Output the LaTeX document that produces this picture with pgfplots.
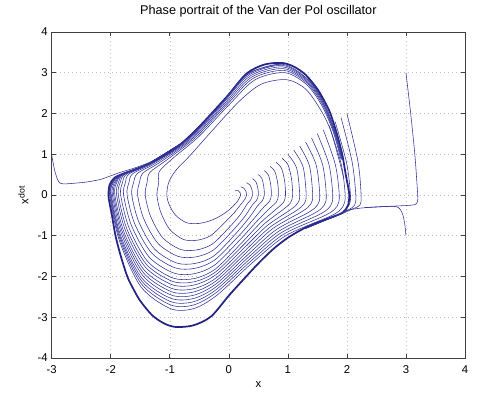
\documentclass[border=0pt]{standalone}
\usepackage{fontspec}
\setmainfont{Liberation Sans}
\usepackage{pgfplots}
\pgfplotsset{compat=1.18}
\definecolor{traj}{RGB}{50,50,152}
\definecolor{lcc}{RGB}{36,36,132}
\pgfplotsset{
  tr/.style={color=traj, line width=0.42pt, smooth, mark=none},
  lc/.style={color=lcc, line width=1.3pt, smooth, mark=none},
}
\begin{document}
\fontsize{8.5}{10}\selectfont
\begin{tikzpicture}
\begin{axis}[
  width=310pt, height=244.5pt, scale only axis,
  xmin=-3, xmax=4, ymin=-4, ymax=4,
  xtick={-3,-2,...,4}, ytick={-4,-3,...,4},
  grid=major,
  grid style={gray!50, line width=0.4pt, dash pattern=on 0.75pt off 2.25pt},
  axis line style={black!75, line width=0.5pt},
  tick style={black!75, line width=0.5pt},
  major tick length=3pt,
  tick align=inside,
  /pgf/number format/assume math mode=true,
  ticklabel style={font=\fontsize{8.5}{10}\selectfont},
  xticklabel style={yshift=-3pt},
  title={Phase portrait of the Van der Pol oscillator},
  title style={font=\fontsize{9.5}{11}\selectfont, yshift=2pt},
  xlabel={x}, ylabel={x\textsuperscript{\fontsize{6.5}{7}\selectfont dot}},
  label style={font=\fontsize{8.5}{10}\selectfont},
  ylabel style={yshift=1pt},
]
% limit cycle
\addplot[lc] coordinates {(-2.04,0) (-2.02,0.25) (-1.93,0.43) (-1.75,0.54) (-1.6,0.62) (-1.3,0.8) (-1,1.05) (-0.75,1.33) (-0.5,1.68) (-0.25,2.07) (0,2.47) (0.3,2.98) (0.6,3.2) (0.9,3.24) (1.1,3.15) (1.3,2.95) (1.5,2.6) (1.62,2.3) (1.72,2.0) (1.83,1.5) (1.92,1.0) (1.98,0.5) (2.02,0.2) (2.04,0) (2.02,-0.25) (1.93,-0.43) (1.75,-0.54) (1.6,-0.62) (1.3,-0.8) (1,-1.05) (0.75,-1.33) (0.5,-1.68) (0.25,-2.07) (0,-2.47) (-0.3,-2.98) (-0.6,-3.2) (-0.9,-3.24) (-1.1,-3.15) (-1.3,-2.95) (-1.5,-2.6) (-1.62,-2.3) (-1.72,-2.0) (-1.83,-1.5) (-1.92,-1.0) (-1.98,-0.5) (-2.02,-0.2) (-2.04,0) (-2.02,0.25)};
% trajectories from the diagonal
\addplot[tr] coordinates {(0.1,0.1) (0.16,0.105) (0.193,0.05) (0.2,0) (0.17,-0.1) (0.12,-0.2) (0,-0.37) (-0.15,-0.52) (-0.33,-0.64) (-0.52,-0.7) (-0.72,-0.68) (-0.9,-0.5) (-1.01,-0.24) (-1.05,0) (-1.02,0.3) (-0.9,0.6) (-0.65,0.98) (-0.3,1.55) (0.17,2.29) (0.55,2.72) (0.98,2.83) (1.3,2.6) (1.55,2.1) (1.72,1.6) (1.86,0.9) (1.95,0.4)};
\addplot[tr] coordinates {(0.2,0.2) (0.257,0.164) (0.291,0.085) (0.3,0) (0.269,-0.111) (0.21,-0.217) (0.093,-0.432) (-0.078,-0.688) (-0.308,-0.998) (-0.534,-1.11) (-0.768,-1.093) (-1.002,-0.844) (-1.156,-0.414) (-1.218,0) (-1.188,0.3) (-1.18,0.57) (-0.965,0.879) (-0.51,1.432) (0.015,2.231) (0.445,2.829) (0.946,3.002) (1.321,2.705) (1.579,2.184) (1.766,1.558) (1.898,0.879)};
\addplot[tr] coordinates {(0.3,0.3) (0.357,0.246) (0.391,0.127) (0.4,0) (0.369,-0.122) (0.303,-0.235) (0.196,-0.478) (0.006,-0.797) (-0.282,-1.207) (-0.55,-1.35) (-0.824,-1.335) (-1.122,-1.046) (-1.328,-0.516) (-1.416,0) (-1.386,0.3) (-1.337,0.554) (-1.063,0.848) (-0.575,1.396) (-0.034,2.213) (0.412,2.863) (0.936,3.056) (1.328,2.738) (1.589,2.21) (1.781,1.545) (1.91,0.872)};
\addplot[tr] coordinates {(0.4,0.4) (0.457,0.328) (0.491,0.169) (0.5,0) (0.468,-0.133) (0.394,-0.252) (0.275,-0.518) (0.063,-0.88) (-0.265,-1.355) (-0.56,-1.52) (-0.86,-1.507) (-1.2,-1.189) (-1.44,-0.588) (-1.545,0) (-1.515,0.3) (-1.451,0.542) (-1.145,0.822) (-0.63,1.365) (-0.074,2.198) (0.385,2.892) (0.927,3.101) (1.333,2.765) (1.596,2.232) (1.793,1.534) (1.919,0.867)};
\addplot[tr] coordinates {(0.5,0.5) (0.557,0.41) (0.591,0.212) (0.6,0) (0.567,-0.143) (0.485,-0.269) (0.345,-0.557) (0.11,-0.961) (-0.252,-1.495) (-0.568,-1.68) (-0.888,-1.668) (-1.26,-1.323) (-1.526,-0.656) (-1.644,0) (-1.614,0.3) (-1.546,0.532) (-1.22,0.798) (-0.68,1.337) (-0.111,2.184) (0.36,2.918) (0.919,3.142) (1.338,2.79) (1.603,2.252) (1.804,1.524) (1.928,0.862)};
\addplot[tr] coordinates {(0.6,0.6) (0.669,0.491) (0.709,0.254) (0.72,0) (0.688,-0.157) (0.595,-0.291) (0.415,-0.598) (0.151,-1.032) (-0.242,-1.599) (-0.574,-1.8) (-0.91,-1.789) (-1.308,-1.424) (-1.595,-0.706) (-1.723,0) (-1.693,0.3) (-1.627,0.523) (-1.288,0.776) (-0.725,1.312) (-0.145,2.171) (0.337,2.941) (0.912,3.179) (1.343,2.813) (1.61,2.27) (1.814,1.515) (1.937,0.857)};
\addplot[tr] coordinates {(0.7,0.7) (0.78,0.573) (0.827,0.296) (0.84,0) (0.807,-0.17) (0.705,-0.311) (0.479,-0.639) (0.185,-1.106) (-0.234,-1.713) (-0.579,-1.93) (-0.927,-1.92) (-1.344,-1.533) (-1.646,-0.762) (-1.783,0) (-1.753,0.3) (-1.689,0.517) (-1.34,0.759) (-0.76,1.292) (-0.17,2.161) (0.32,2.959) (0.906,3.207) (1.346,2.83) (1.614,2.284)};
\addplot[tr] coordinates {(0.8,0.8) (0.892,0.655) (0.945,0.338) (0.96,0) (0.926,-0.183) (0.814,-0.332) (0.539,-0.679) (0.215,-1.177) (-0.227,-1.817) (-0.583,-2.05) (-0.941,-2.041) (-1.374,-1.634) (-1.689,-0.812) (-1.832,0) (-1.802,0.3) (-1.731,0.512) (-1.37,0.75) (-0.78,1.281) (-0.185,2.156) (0.31,2.97) (0.903,3.224)};
\addplot[tr] coordinates {(0.9,0.9) (1.003,0.737) (1.063,0.381) (1.08,0) (1.045,-0.196) (0.923,-0.353) (0.595,-0.716) (0.242,-1.234) (-0.222,-1.887) (-0.586,-2.13) (-0.952,-2.121) (-1.398,-1.701) (-1.724,-0.846) (-1.872,0) (-1.842,0.3) (-1.76,0.509) (-1.385,0.745) (-0.79,1.276) (-0.193,2.153)};
\addplot[tr] coordinates {(1.0,1.0) (1.15,0.65) (1.2,0) (1.164,-0.209) (1.032,-0.374) (0.649,-0.753) (0.265,-1.291) (-0.218,-1.957) (-0.589,-2.21) (-0.961,-2.202) (-1.416,-1.768) (-1.75,-0.88) (-1.901,0) (-1.871,0.3) (-1.784,0.507) (-1.4,0.74) (-0.8,1.27)};
\addplot[tr] coordinates {(1.1,1.1) (1.258,0.687) (1.31,0) (1.273,-0.221) (1.133,-0.393) (0.699,-0.788) (0.287,-1.349) (-0.214,-2.035) (-0.591,-2.3) (-0.969,-2.293) (-1.434,-1.844) (-1.775,-0.918) (-1.931,0) (-1.901,0.3) (-1.798,0.505) (-1.4,0.74) (-0.8,1.27)};
\addplot[tr] coordinates {(1.2,1.2) (1.365,0.717) (1.42,0) (1.383,-0.233) (1.234,-0.412) (0.745,-0.823) (0.305,-1.403) (-0.212,-2.105) (-0.593,-2.38) (-0.975,-2.373) (-1.446,-1.911) (-1.793,-0.952) (-1.951,0) (-1.921,0.3) (-1.807,0.505) (-1.4,0.74) (-0.8,1.27)};
\addplot[tr] coordinates {(1.3,1.3) (1.48,0.731) (1.54,0) (1.502,-0.246) (1.343,-0.433) (0.795,-0.86) (0.325,-1.46) (-0.209,-2.175) (-0.594,-2.46) (-0.98,-2.454) (-1.458,-1.978) (-1.81,-0.986) (-1.971,0) (-1.941,0.3) (-1.817,0.504) (-1.4,0.74) (-0.8,1.27)};
\addplot[tr] coordinates {(1.4,1.4) (1.588,0.745) (1.65,0) (1.612,-0.258) (1.444,-0.452) (0.842,-0.894) (0.343,-1.514) (-0.206,-2.244) (-0.596,-2.54) (-0.986,-2.535) (-1.47,-2.046) (-1.827,-1.02) (-1.99,0) (-1.961,0.3) (-1.826,0.503) (-1.4,0.74) (-0.8,1.27)};
\addplot[tr] coordinates {(1.5,1.5) (1.695,0.751) (1.76,0) (1.722,-0.27) (1.545,-0.471) (0.885,-0.928) (0.358,-1.569) (-0.205,-2.314) (-0.597,-2.62) (-0.989,-2.615) (-1.476,-2.113) (-1.836,-1.054) (-2.0,0) (-1.97,0.3) (-1.831,0.502) (-1.4,0.74) (-0.8,1.27)};
\addplot[tr] coordinates {(1.6,1.6) (1.803,0.749) (1.87,0) (1.832,-0.282) (1.645,-0.491) (0.929,-0.963) (0.372,-1.624) (-0.204,-2.384) (-0.598,-2.7) (-0.992,-2.696) (-1.482,-2.18) (-1.844,-1.088) (-2.01,0) (-1.98,0.3) (-1.836,0.502) (-1.4,0.74) (-0.8,1.27)};
\addplot[tr] coordinates {(1.7,1.7) (1.903,0.757) (1.97,0) (1.93,-0.292) (1.736,-0.508) (0.968,-0.996) (0.386,-1.679) (-0.203,-2.462) (-0.598,-2.79) (-0.994,-2.787) (-1.488,-2.256) (-1.853,-1.126) (-2.02,0) (-1.99,0.3) (-1.841,0.501) (-1.4,0.74) (-0.8,1.27)};
\addplot[tr] coordinates {(1.8,1.8) (1.995,0.783) (2.06,0) (2.04,-0.24) (1.95,-0.4) (1.8,-0.52) (1.6,-0.63) (1.3,-0.81)};
\addplot[tr] coordinates {(1.9,1.9) (2.088,0.811) (2.15,0) (2.13,-0.25) (2.02,-0.37) (1.85,-0.49) (1.6,-0.64) (1.3,-0.82)};
\addplot[tr] coordinates {(2.0,2.0) (2.188,0.813) (2.24,0) (2.22,-0.25) (2.1,-0.34) (1.9,-0.47) (1.6,-0.64) (1.3,-0.82)};
% trajectories from outside
\addplot[tr] coordinates {(3.0,3.0) (3.08,2.0) (3.15,1.0) (3.19,0.2) (3.2,-0.12) (3.17,-0.22) (3.1,-0.25) (2.85,-0.27) (2.56,-0.29) (2.25,-0.32) (2.0,-0.38) (1.8,-0.53) (1.6,-0.645) (1.3,-0.825)};
\addplot[tr] coordinates {(3.0,-1.0) (2.98,-0.72) (2.95,-0.5) (2.91,-0.37) (2.86,-0.3) (2.78,-0.28) (2.56,-0.29) (2.3,-0.31)};
\addplot[tr] coordinates {(-3.0,0.98) (-2.95,0.6) (-2.9,0.38) (-2.86,0.29) (-2.8,0.27) (-2.6,0.29) (-2.4,0.32) (-2.18,0.38) (-2.0,0.47) (-1.85,0.55) (-1.6,0.66) (-1.3,0.82)};
\end{axis}
\path (current axis.south west) ++(-38.8pt,-34.5pt) rectangle ([xshift=26.25pt,yshift=24pt]current axis.north east);
\end{tikzpicture}
\end{document}
